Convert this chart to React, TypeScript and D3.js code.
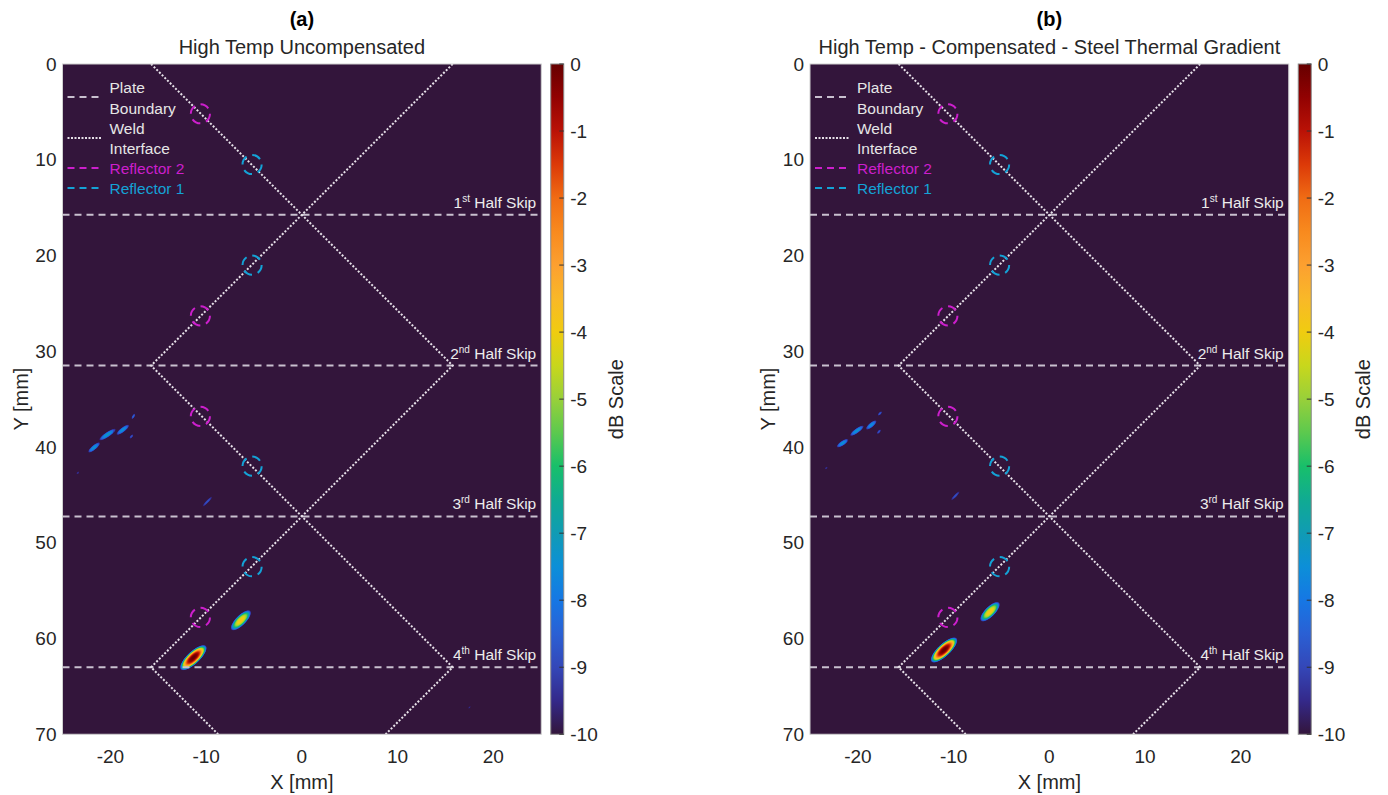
import React, { useMemo } from "react";
import * as d3 from "d3";

// ---------- data ----------
const X_DOMAIN = [-25, 25];
const Y_DOMAIN = [0, 70];
const X_TICKS = [-20, -10, 0, 10, 20];
const Y_TICKS = [0, 10, 20, 30, 40, 50, 60, 70];
const CB_TICKS = [0, -1, -2, -3, -4, -5, -6, -7, -8, -9, -10];
const DB_MIN = -10;
const DB_MAX = 0;

const CMAP_DB = [-10, -9.5, -9, -8.5, -8, -7.5, -7, -6.5, -6, -5.5, -5, -4.5, -4, -3.5, -3, -2.5, -2, -1.5, -1, -0.5, 0];
const CMAP_COLORS = [
  "#33153b", "#34298a", "#3447b8", "#2a60d4", "#1677e4", "#0c8fd8", "#109bb4", "#10ab92",
  "#18bf6a", "#5cc94e", "#98d03a", "#c8d71c", "#f0cc10", "#f9b828", "#fca030", "#f88a1e",
  "#f06c14", "#dc3a08", "#ba1206", "#920202", "#660000",
];

const PLATE_BOUNDARIES = [15.75, 31.5, 47.25, 63.0];
const SKIP_NUM = ["1", "2", "3", "4"];
const SKIP_SUFFIX = ["st", "nd", "rd", "th"];

const WELD_A_X = [-15.75, 0, 15.75, 0, -15.75, -8.75];
const WELD_A_Y = [0, 15.75, 31.5, 47.25, 63.0, 70];
const WELD_B_X = [15.75, 0, -15.75, 0, 15.75, 8.75];
const WELD_B_Y = [0, 15.75, 31.5, 47.25, 63.0, 70];

const REF2_X = [-10.6, -10.6, -10.6, -10.6];
const REF2_Y = [5.2, 26.3, 36.8, 57.8];
const REF1_X = [-5.2, -5.2, -5.2, -5.2];
const REF1_Y = [10.5, 21.0, 42.0, 52.5];
const REF_RADIUS_MM = 1.0;

const LEGEND_LABELS = [["Plate", "Boundary"], ["Weld", "Interface"], ["Reflector 2"], ["Reflector 1"]];

// panel (a) indications
const A_BLOB_X = [-11.33, -6.37, -21.7, -20.3, -18.7, -17.6, -17.8, -23.4, -9.87, 17.5];
const A_BLOB_Y = [62.0, 58.1, 40.05, 38.7, 38.2, 36.8, 38.9, 42.7, 45.7, 67.2];
const A_BLOB_PEAK = [0, -3.8, -7.3, -7.2, -7.4, -8.4, -8.7, -9.3, -8.8, -9.4];
const A_BLOB_LEN = [1.8, 1.4, 0.78, 1.02, 0.82, 0.32, 0.26, 0.17, 0.72, 0.17];
const A_BLOB_WID = [0.64, 0.52, 0.23, 0.25, 0.23, 0.11, 0.11, 0.1, 0.13, 0.07];
const A_BLOB_ANG = [-43, -45, -40, -34, -38, -60, -50, -45, -46, -45];

// panel (b) indications
const B_BLOB_X = [-11.0, -6.2, -21.6, -20.1, -18.6, -17.7, -17.8, -23.3, -9.82];
const B_BLOB_Y = [61.2, 57.2, 39.6, 38.3, 37.7, 36.5, 38.4, 42.2, 45.1];
const B_BLOB_PEAK = [0, -3.8, -7.4, -7.3, -7.5, -8.6, -8.7, -9.3, -8.8];
const B_BLOB_LEN = [1.8, 1.35, 0.72, 0.86, 0.7, 0.28, 0.28, 0.17, 0.64];
const B_BLOB_WID = [0.64, 0.52, 0.23, 0.23, 0.23, 0.11, 0.11, 0.1, 0.13];
const B_BLOB_ANG = [-43, -45, -34, -36, -40, -45, -50, -45, -46];

const TITLES = ["High Temp Uncompensated", "High Temp - Compensated - Steel Thermal Gradient"];
const TAGS = ["(a)", "(b)"];

// ---------- layout / style ----------
const W = 1388;
const H = 795;
const PX_PER_MM = 9.575;
const PANEL_LEFT = [62.5, 810];
const PLOT_TOP = 64;
const FONT = "'Liberation Sans', Arial, Helvetica, sans-serif";
const TEXT = "#262626";
const SHAPE_P = 2.5;
const STEP = 0.025;
const LEVEL_STEP = 0.2;
const LEVELS = d3.range(-9.9, -0.05, LEVEL_STEP);

const cmap = d3.scaleLinear<string>().domain(CMAP_DB).range(CMAP_COLORS).interpolate(d3.interpolateRgb).clamp(true);

type Blobs = { x: number[]; y: number[]; peak: number[]; len: number[]; wid: number[]; ang: number[] };

function buildBands(b: Blobs, xs: d3.ScaleLinear<number, number>, ys: d3.ScaleLinear<number, number>) {
  const n = b.x.length;
  const evalAt = (x: number, y: number) => {
    let v = DB_MIN;
    for (let k = 0; k < n; k++) {
      const th = (b.ang[k] * Math.PI) / 180;
      const dx = x - b.x[k];
      const dy = y - b.y[k];
      const u = dx * Math.cos(th) + dy * Math.sin(th);
      const w = -dx * Math.sin(th) + dy * Math.cos(th);
      const r = Math.sqrt((u / b.len[k]) ** 2 + (w / b.wid[k]) ** 2);
      const val = b.peak[k] - (b.peak[k] - DB_MIN) * Math.pow(r, SHAPE_P);
      if (val > v) v = val;
    }
    return v;
  };
  const out: { d: string; fill: string }[] = [];
  for (let k = 0; k < n; k++) {
    const half = b.len[k] + 0.15;
    const x0 = b.x[k] - half;
    const y0 = b.y[k] - half;
    const nx = Math.ceil((2 * half) / STEP) + 1;
    const values = new Float64Array(nx * nx);
    for (let j = 0; j < nx; j++) {
      for (let i = 0; i < nx; i++) {
        values[j * nx + i] = evalAt(x0 + i * STEP, y0 + j * STEP);
      }
    }
    const cs = d3.contours().size([nx, nx]).thresholds(LEVELS)(values as any);
    const proj = d3.geoTransform({
      point(px: number, py: number) {
        (this as any).stream.point(xs(x0 + (px - 0.5) * STEP), ys(y0 + (py - 0.5) * STEP));
      },
    });
    const path = d3.geoPath(proj);
    cs.forEach((c) => {
      if (c.coordinates.length) {
        const d = path(c as any);
        if (d) out.push({ d, fill: cmap(c.value + LEVEL_STEP / 2) });
      }
    });
  }
  return out;
}

function Panel({ idx, blobs }: { idx: number; blobs: Blobs }) {
  const left = PANEL_LEFT[idx];
  const xs = d3.scaleLinear().domain(X_DOMAIN).range([left, left + 50 * PX_PER_MM]);
  const ys = d3.scaleLinear().domain(Y_DOMAIN).range([PLOT_TOP, PLOT_TOP + 70 * PX_PER_MM]);
  const [xl, xr] = xs.range();
  const [yt, yb] = ys.range();
  const cx = (xl + xr) / 2;
  const cy = (yt + yb) / 2;
  const bands = useMemo(() => buildBands(blobs, xs, ys), [idx]);

  const line = d3.line<[number, number]>().x((p) => xs(p[0])).y((p) => ys(p[1]));
  const weldA = line(WELD_A_X.map((x, i) => [x, WELD_A_Y[i]] as [number, number]));
  const weldB = line(WELD_B_X.map((x, i) => [x, WELD_B_Y[i]] as [number, number]));

  // colorbar
  const cbL = xr + 9.5;
  const cbW = 13;
  const cbScale = d3.scaleLinear().domain([DB_MAX, DB_MIN]).range([yt, yb]);
  const gradId = `cbgrad${idx}`;
  const clipId = `clip${idx}`;
  const gradStops = CMAP_DB.map((v, i) => ({ off: (DB_MAX - v) / (DB_MAX - DB_MIN), col: CMAP_COLORS[i] })).sort((a, b) => a.off - b.off);

  const plateStroke = "#c9c0cf";
  const weldStroke = "#e6e0e8";
  const magenta = "#cc1fcc";
  const cyan = "#14a2d6";
  const lgX0 = xl + 5;
  const lgX1 = xl + 40;
  const lgT = xl + 47;

  return (
    <g>
      <defs>
        <linearGradient id={gradId} x1="0" y1="0" x2="0" y2="1">
          {gradStops.map((s, i) => (
            <stop key={i} offset={s.off} stopColor={s.col} />
          ))}
        </linearGradient>
        <clipPath id={clipId}>
          <rect x={xl} y={yt} width={xr - xl} height={yb - yt} />
        </clipPath>
      </defs>

      {/* titles */}
      <text x={cx} y={26} textAnchor="middle" fontFamily={FONT} fontSize={20} fontWeight="bold" fill="#000">
        {TAGS[idx]}
      </text>
      <text x={cx} y={54} textAnchor="middle" fontFamily={FONT} fontSize={20} fill={TEXT}>
        {TITLES[idx]}
      </text>

      {/* image */}
      <rect x={xl} y={yt} width={xr - xl} height={yb - yt} fill={cmap(DB_MIN)} />
      <g clipPath={`url(#${clipId})`}>
        {bands.map((b, i) => (
          <path key={i} d={b.d} fill={b.fill} stroke="none" />
        ))}

        {/* plate boundaries */}
        {PLATE_BOUNDARIES.map((v, i) => (
          <line key={i} x1={xl} x2={xr} y1={ys(v)} y2={ys(v)} stroke={plateStroke} strokeWidth={2} strokeDasharray="7 5" />
        ))}
        {/* weld interface */}
        <path d={weldA || ""} fill="none" stroke={weldStroke} strokeWidth={2} strokeDasharray="2 1.8" />
        <path d={weldB || ""} fill="none" stroke={weldStroke} strokeWidth={2} strokeDasharray="2 1.8" />
        {/* reflectors */}
        {REF2_X.map((x, i) => (
          <circle key={"r2" + i} cx={xs(x)} cy={ys(REF2_Y[i])} r={REF_RADIUS_MM * PX_PER_MM} fill="none" stroke={magenta} strokeWidth={2} strokeDasharray="9 6" />
        ))}
        {REF1_X.map((x, i) => (
          <circle key={"r1" + i} cx={xs(x)} cy={ys(REF1_Y[i])} r={REF_RADIUS_MM * PX_PER_MM} fill="none" stroke={cyan} strokeWidth={2} strokeDasharray="9 6" />
        ))}
      </g>

      {/* half skip labels */}
      {PLATE_BOUNDARIES.map((v, i) => (
        <text key={i} x={xr - 5} y={ys(v) - 7} textAnchor="end" fontFamily={FONT} fontSize={15.5} fill="#ececec" style={{ whiteSpace: "pre" }}>
          {SKIP_NUM[i]}
          <tspan fontSize={10} dy={-6}>{SKIP_SUFFIX[i]}</tspan>
          <tspan dy={6}>{" Half Skip"}</tspan>
        </text>
      ))}

      {/* legend */}
      <g fontFamily={FONT} fontSize={15.5}>
        <line x1={lgX0} x2={lgX1} y1={97} y2={97} stroke={plateStroke} strokeWidth={2} strokeDasharray="7 5" />
        <text x={lgT} y={87} dominantBaseline="central" fill="#e6e6e6">{LEGEND_LABELS[0][0]}</text>
        <text x={lgT} y={108} dominantBaseline="central" fill="#e6e6e6">{LEGEND_LABELS[0][1]}</text>
        <line x1={lgX0} x2={lgX1} y1={138} y2={138} stroke={weldStroke} strokeWidth={2} strokeDasharray="2 1.5" />
        <text x={lgT} y={128} dominantBaseline="central" fill="#e6e6e6">{LEGEND_LABELS[1][0]}</text>
        <text x={lgT} y={148} dominantBaseline="central" fill="#e6e6e6">{LEGEND_LABELS[1][1]}</text>
        <line x1={lgX0} x2={lgX1} y1={168} y2={168} stroke={magenta} strokeWidth={2} strokeDasharray="7 5" />
        <text x={lgT} y={168} dominantBaseline="central" fill={magenta}>{LEGEND_LABELS[2][0]}</text>
        <line x1={lgX0} x2={lgX1} y1={188} y2={188} stroke={cyan} strokeWidth={2} strokeDasharray="7 5" />
        <text x={lgT} y={188} dominantBaseline="central" fill={cyan}>{LEGEND_LABELS[3][0]}</text>
      </g>

      {/* frame */}
      <rect x={xl} y={yt} width={xr - xl} height={yb - yt} fill="none" stroke="#d0d0d0" strokeWidth={1} />

      {/* axes ticks */}
      <g fontFamily={FONT} fontSize={19} fill={TEXT}>
        {X_TICKS.map((t) => (
          <text key={t} x={xs(t)} y={756} textAnchor="middle" dominantBaseline="central">{t}</text>
        ))}
        {Y_TICKS.map((t) => (
          <text key={t} x={xl - 6} y={ys(t)} textAnchor="end" dominantBaseline="central">{t}</text>
        ))}
      </g>
      <text x={cx} y={782} textAnchor="middle" dominantBaseline="central" fontFamily={FONT} fontSize={20} fill={TEXT}>X [mm]</text>
      <text transform={`translate(${xl - 42},${cy}) rotate(-90)`} textAnchor="middle" dominantBaseline="central" fontFamily={FONT} fontSize={20} fill={TEXT}>Y [mm]</text>

      {/* colorbar */}
      <rect x={cbL} y={yt} width={cbW} height={yb - yt} fill={`url(#${gradId})`} stroke="#8a8a8a" strokeWidth={1} />
      {CB_TICKS.map((t) => (
        <g key={t}>
          <line x1={cbL + cbW - 4.5} x2={cbL + cbW} y1={cbScale(t)} y2={cbScale(t)} stroke="#333" strokeWidth={1} />
          <text x={cbL + 19.5} y={cbScale(t)} dominantBaseline="central" fontFamily={FONT} fontSize={19} fill={TEXT}>{t}</text>
        </g>
      ))}
      <text transform={`translate(${cbL + 65},${cy}) rotate(-90)`} textAnchor="middle" dominantBaseline="central" fontFamily={FONT} fontSize={20} fill={TEXT}>dB Scale</text>
    </g>
  );
}

const BLOBS_A: Blobs = { x: A_BLOB_X, y: A_BLOB_Y, peak: A_BLOB_PEAK, len: A_BLOB_LEN, wid: A_BLOB_WID, ang: A_BLOB_ANG };
const BLOBS_B: Blobs = { x: B_BLOB_X, y: B_BLOB_Y, peak: B_BLOB_PEAK, len: B_BLOB_LEN, wid: B_BLOB_WID, ang: B_BLOB_ANG };

export default function App() {
  return (
    <svg width={W} height={H} viewBox={`0 0 ${W} ${H}`} style={{ position: "absolute", left: 0, top: 0, background: "#fff" }}>
      <rect x={0} y={0} width={W} height={H} fill="#fff" />
      <Panel idx={0} blobs={BLOBS_A} />
      <Panel idx={1} blobs={BLOBS_B} />
    </svg>
  );
}
